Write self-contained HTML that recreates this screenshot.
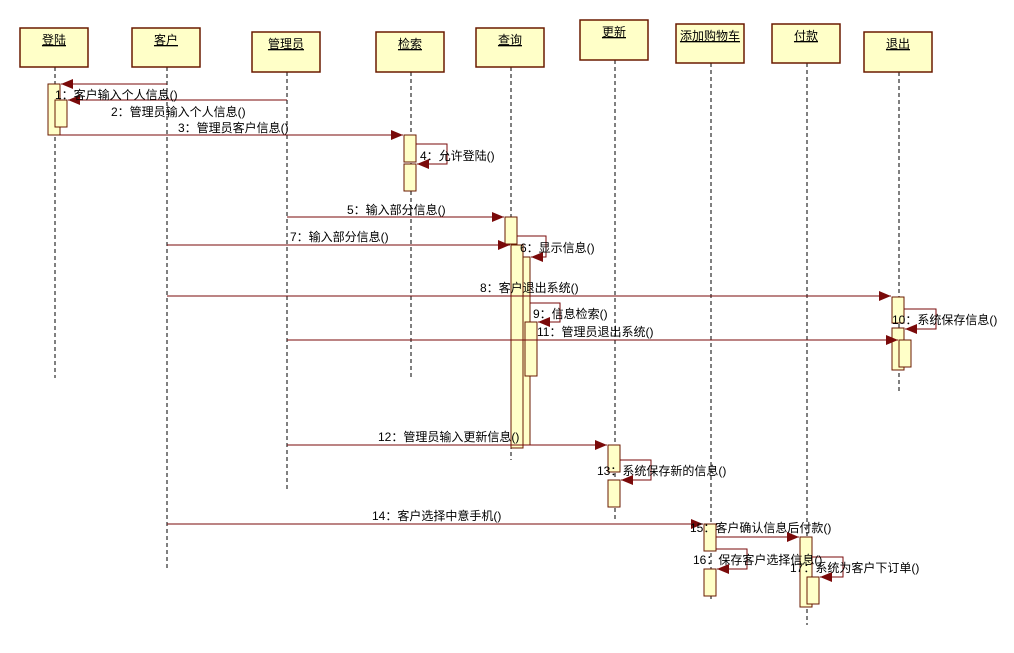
<!DOCTYPE html>
<html><head><meta charset="utf-8"><style>
body{margin:0;background:#fff;}
svg text{font-family:"Liberation Sans","Noto Sans CJK SC",sans-serif;font-size:12px;fill:#000;}
.h{font-size:12px;text-decoration:underline;}
</style></head><body>
<svg width="1014" height="648" viewBox="0 0 1014 648" xmlns="http://www.w3.org/2000/svg">
<defs>
<marker id="a" viewBox="0 0 12 10" refX="12" refY="5" markerWidth="12" markerHeight="10" markerUnits="userSpaceOnUse" orient="auto">
<path d="M0,0 L12,5 L0,10 z" fill="#7a0a0a"/></marker>
</defs>
<g stroke="#000" stroke-width="1" stroke-dasharray="4,3">
<line x1="55" y1="67" x2="55" y2="378"/>
<line x1="167" y1="67" x2="167" y2="570"/>
<line x1="287" y1="72" x2="287" y2="492"/>
<line x1="411" y1="72" x2="411" y2="380"/>
<line x1="511" y1="67" x2="511" y2="460"/>
<line x1="615" y1="60" x2="615" y2="522"/>
<line x1="711" y1="63" x2="711" y2="600"/>
<line x1="807" y1="63" x2="807" y2="625"/>
<line x1="899" y1="72" x2="899" y2="392"/>
</g>
<g fill="#ffffc8" stroke="#6a1a00" stroke-width="1.5">
<rect x="20" y="28" width="68" height="39"/>
<rect x="132" y="28" width="68" height="39"/>
<rect x="252" y="32" width="68" height="40"/>
<rect x="376" y="32" width="68" height="40"/>
<rect x="476" y="28" width="68" height="39"/>
<rect x="580" y="20" width="68" height="40"/>
<rect x="676" y="24" width="68" height="39"/>
<rect x="772" y="24" width="68" height="39"/>
<rect x="864" y="32" width="68" height="40"/>
</g>
<g class="h" text-anchor="middle">
<text class="h" x="54" y="44">登陆</text>
<text class="h" x="166" y="44">客户</text>
<text class="h" x="286" y="48">管理员</text>
<text class="h" x="410" y="48">检索</text>
<text class="h" x="510" y="44">查询</text>
<text class="h" x="614" y="36">更新</text>
<text class="h" x="710" y="40">添加购物车</text>
<text class="h" x="806" y="40">付款</text>
<text class="h" x="898" y="48">退出</text>
</g>
<g fill="#ffffc8" stroke="#6a1a00" stroke-width="1">
<rect x="48" y="84" width="12" height="51"/>
<rect x="55" y="100" width="12" height="27"/>
<rect x="404" y="135" width="12" height="27"/>
<rect x="404" y="164" width="12" height="27"/>
<rect x="505" y="217" width="12" height="27"/>
<rect x="511" y="245" width="12" height="203"/>
<rect x="523" y="257" width="7" height="188"/>
<rect x="525" y="322" width="12" height="54"/>
<rect x="892" y="297" width="12" height="26"/>
<rect x="892" y="328" width="12" height="42"/>
<rect x="899" y="340" width="12" height="27"/>
<rect x="608" y="445" width="12" height="27"/>
<rect x="608" y="480" width="12" height="27"/>
<rect x="704" y="524" width="12" height="27"/>
<rect x="704" y="569" width="12" height="27"/>
<rect x="800" y="537" width="12" height="70"/>
<rect x="807" y="577" width="12" height="27"/>
</g>
<g stroke="#7a0a0a" stroke-width="1" fill="none">
<line x1="167" y1="84" x2="61" y2="84" marker-end="url(#a)"/>
<line x1="287" y1="100" x2="68" y2="100" marker-end="url(#a)"/>
<line x1="60" y1="135" x2="403" y2="135" marker-end="url(#a)"/>
<polyline points="416,144 447,144 447,164 417,164" marker-end="url(#a)"/>
<line x1="287" y1="217" x2="504" y2="217" marker-end="url(#a)"/>
<line x1="167" y1="245" x2="510" y2="245" marker-end="url(#a)"/>
<polyline points="517,236 546,236 546,257 531,257" marker-end="url(#a)"/>
<line x1="167" y1="296" x2="891" y2="296" marker-end="url(#a)"/>
<polyline points="530,303 560,303 560,322 538,322" marker-end="url(#a)"/>
<line x1="287" y1="340" x2="898" y2="340" marker-end="url(#a)"/>
<polyline points="904,309 936,309 936,329 905,329" marker-end="url(#a)"/>
<line x1="287" y1="445" x2="607" y2="445" marker-end="url(#a)"/>
<polyline points="620,460 651,460 651,480 621,480" marker-end="url(#a)"/>
<line x1="167" y1="524" x2="703" y2="524" marker-end="url(#a)"/>
<line x1="716" y1="537" x2="799" y2="537" marker-end="url(#a)"/>
<polyline points="716,549 747,549 747,569 717,569" marker-end="url(#a)"/>
<polyline points="812,557 843,557 843,577 820,577" marker-end="url(#a)"/>
</g>
<g>
<text x="55" y="99">1：客户输入个人信息()</text>
<text x="111" y="116">2：管理员输入个人信息()</text>
<text x="178" y="132">3：管理员客户信息()</text>
<text x="420" y="160">4：允许登陆()</text>
<text x="347" y="214">5：输入部分信息()</text>
<text x="290" y="241">7：输入部分信息()</text>
<text x="520" y="252">6：显示信息()</text>
<text x="480" y="292">8：客户退出系统()</text>
<text x="533" y="318">9：信息检索()</text>
<text x="537" y="336">11：管理员退出系统()</text>
<text x="892" y="324">10：系统保存信息()</text>
<text x="378" y="441">12：管理员输入更新信息()</text>
<text x="597" y="475">13：系统保存新的信息()</text>
<text x="372" y="520">14：客户选择中意手机()</text>
<text x="690" y="532">15：客户确认信息后付款()</text>
<text x="693" y="564">16：保存客户选择信息()</text>
<text x="790" y="572">17：系统为客户下订单()</text>
</g>
</svg>
</body></html>
